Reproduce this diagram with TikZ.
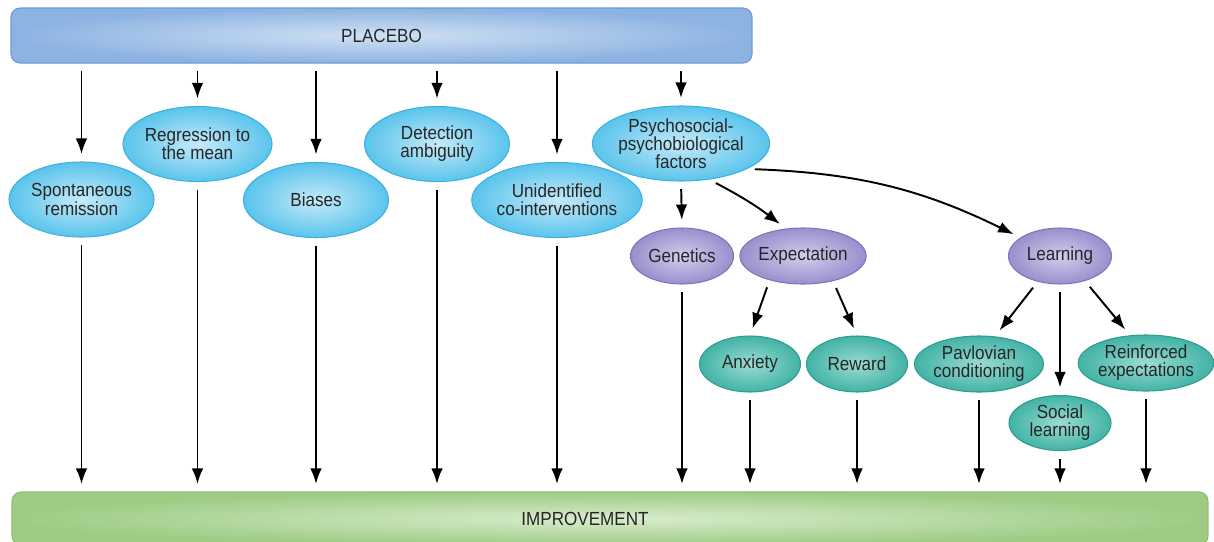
\documentclass[tikz,border=0pt]{standalone}
\usepackage{fontspec}
\setmainfont[FakeStretch=0.9]{Liberation Sans}
\usepackage{tikz}
\usetikzlibrary{shapes,arrows,arrows.meta,positioning}

\definecolor{txt}{HTML}{262626}
\definecolor{barblueline}{HTML}{6B9BD6}
\definecolor{barblueout}{HTML}{8DB3E2}
\definecolor{barbluein}{HTML}{D0E1F4}
\definecolor{bargreenline}{HTML}{8CBF70}
\definecolor{bargreenout}{HTML}{9ECC85}
\definecolor{bargreenin}{HTML}{D8ECCD}
\definecolor{blueline}{HTML}{3FB0E0}
\definecolor{blueout}{HTML}{5AC4EC}
\definecolor{bluein}{HTML}{C6EAF9}
\definecolor{purpleline}{HTML}{8073B8}
\definecolor{purpleout}{HTML}{9A8ECD}
\definecolor{purplein}{HTML}{D4CDEC}
\definecolor{tealline}{HTML}{2F9C8F}
\definecolor{tealout}{HTML}{42B3A6}
\definecolor{tealin}{HTML}{9CDBD2}

\begin{document}
\begin{tikzpicture}
    \tikzset{
        factor/.style={ellipse, draw=blueline, line width=0.6pt, inner color=bluein, outer color=blueout, minimum width=2.9cm, minimum height=1.5cm, inner sep=0pt, align=center, text=txt, font=\fontsize{10.8}{10.3}\selectfont},
        psych/.style={factor, draw=purpleline, inner color=purplein, outer color=purpleout, minimum width=2.06cm, minimum height=1.12cm},
        sub/.style={factor, draw=tealline, inner color=tealin, outer color=tealout, minimum width=2.02cm, minimum height=1.12cm},
        bar/.style={rectangle, rounded corners=0.18cm, line width=0.6pt, text=txt, font=\fontsize{10.8}{12}\selectfont},
        line/.style={draw, -{Latex[length=3.1mm,width=2.3mm]}, line width=1.1pt, shorten <=0.15cm, shorten >=0.15cm},
    };
    \useasboundingbox (0,0) rectangle (24.28,-10.82);

    \node [bar, draw=barblueline, inner color=barbluein, outer color=barblueout, minimum width=14.82cm, minimum height=1.1cm] (placebo) at (7.63,-0.71) {PLACEBO};
    \node [bar, draw=bargreenline, inner color=bargreenin, outer color=bargreenout, minimum width=23.92cm, minimum height=1.06cm,
        label={[text=txt, font=\fontsize{10.8}{12}\selectfont, xshift=-0.5cm]center:IMPROVEMENT}] (improvement) at (12.2,-10.37) {};

    \node [factor] (spontaneous) at (1.63,-3.99) {Spontaneous\\remission};
    \node [factor] (regression) at (3.95,-2.88) {Regression to\\the mean};
    \node [factor] (biases) at (6.32,-4.0) {Biases};
    \node [factor] (detection) at (8.74,-2.88) {Detection\\ambiguity};
    \node [factor] (unidentified) at (11.14,-4.0) {Unidentified\\co-interventions};
    \node [factor] (psychosocial) at (13.62,-2.87) {Psychosocial-\\psychobiological\\factors};

    \node [psych] (genetics) at (13.64,-5.12) {Genetics};
    \node [psych] (expectation) at (16.06,-5.12) {Expectation};
    \node [psych] (learning) at (21.2,-5.12) {Learning};

    \node [sub] (anxiety) at (15.0,-7.28) {Anxiety};
    \node [sub] (reward) at (17.14,-7.28) {Reward};
    \node [sub, minimum width=2.52cm] (pavlovian) at (19.58,-7.28) {Pavlovian\\conditioning};
    \node [sub, minimum width=2.7cm] (reinforced) at (22.92,-7.26) {Reinforced\\expectations};
    \node [sub, minimum width=2.04cm, minimum height=1.1cm] (social) at (21.2,-8.46) {Social\\learning};

    \path [line] (spontaneous.north |- placebo.south)--(spontaneous.north);
    \path [line] (regression.north |- placebo.south)--(regression.north);
    \path [line] (biases.north |- placebo.south)--(biases.north);
    \path [line] (detection.north |- placebo.south)--(detection.north);
    \path [line] (unidentified.north |- placebo.south)--(unidentified.north);
    \path [line] (psychosocial.north |- placebo.south)--(psychosocial.north);

    \path [line] (psychosocial.south)--(genetics.north);
    \path [line] (psychosocial.-52) to[bend left=5] (expectation.122);
    \path [line] (psychosocial.-21) to[bend left=12] (learning.155);
    \path [line] (expectation.-144)--(anxiety.north);
    \path [line] (expectation.-40)--(reward.north);
    \path [line] (learning.-131)--(pavlovian.60);
    \path [line] (learning.south)--(social.north);
    \path [line] (learning.-45)--(reinforced.120);

    \path [line] (spontaneous.south)--(spontaneous.south |- improvement.north);
    \path [line] (regression.south)--(regression.south |- improvement.north);
    \path [line] (biases.south)--(biases.south |- improvement.north);
    \path [line] (detection.south)--(detection.south |- improvement.north);
    \path [line] (unidentified.south)--(unidentified.south |- improvement.north);
    \path [line] (genetics.south)--(genetics.south |- improvement.north);
    \path [line] (anxiety.south)--(anxiety.south |- improvement.north);
    \path [line] (reward.south)--(reward.south |- improvement.north);
    \path [line] (pavlovian.south)--(pavlovian.south |- improvement.north);
    \path [line] (social.south)--(social.south |- improvement.north);
    \path [line] (reinforced.south)--(reinforced.south |- improvement.north);
\end{tikzpicture}
\end{document}
